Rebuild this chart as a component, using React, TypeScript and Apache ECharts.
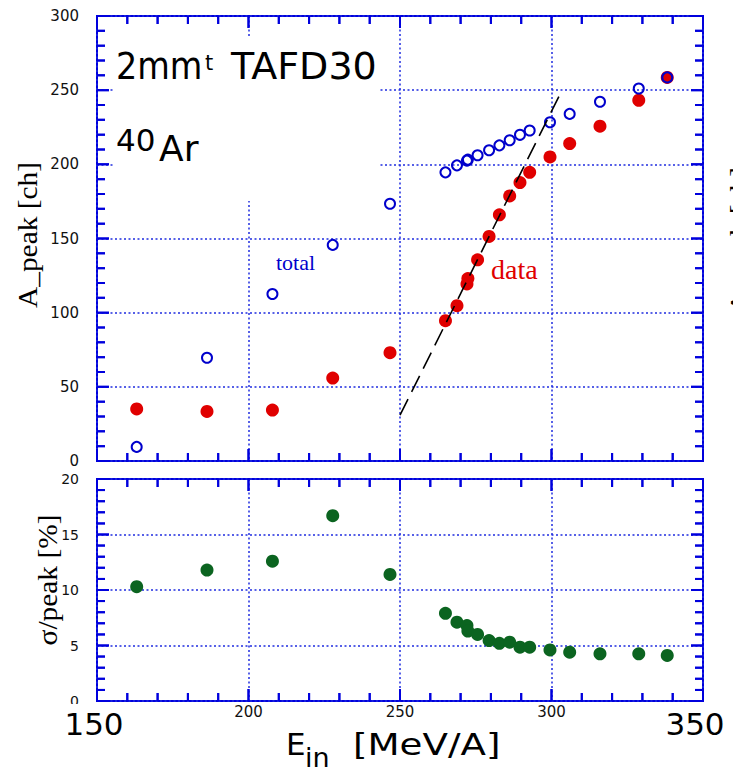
import React, { useEffect, useRef } from "react";
import * as echarts from "echarts";

// ---- data ----
const energy = [163.1, 186.3, 207.9, 227.8, 246.7, 265.0, 268.8, 272.1, 272.4, 275.6, 279.4, 282.8, 286.2, 289.6, 292.8, 299.5, 306.0, 316.0, 328.8, 338.2];
const peakData = [35.1, 33.4, 34.3, 55.9, 73.0, 94.6, 104.7, 119.4, 123.0, 135.6, 151.4, 166.0, 178.7, 187.7, 194.6, 205.0, 214.0, 225.7, 243.2, 258.6];
const peakTotal = [9.5, 69.6, 112.6, 145.7, 173.4, 194.6, 199.3, 202.5, 203.2, 206.1, 209.5, 212.8, 216.2, 219.9, 222.8, 228.4, 234.0, 242.2, 251.1, 258.6];
const sigmaPeak = [10.3, 11.8, 12.6, 16.7, 11.4, 7.9, 7.1, 6.8, 6.3, 6.0, 5.45, 5.2, 5.3, 4.85, 4.85, 4.6, 4.4, 4.25, 4.25, 4.1];
const fitLine = [[250, 30.9], [302.5, 246]];
const xTicks = [150, 200, 250, 300, 350];
const yTicksTop = [0, 50, 100, 150, 200, 250, 300];
const yTicksBottom = [0, 5, 10, 15, 20];

const BLUE = "#0000dd";
const GRID = "#1f2ce0";
const RED = "#e00000";
const GREEN = "#0b6420";
const SANS = "'DejaVu Sans'";
const SERIF = "'Liberation Serif', 'Times New Roman', serif";

const GRIDS = [
  { left: 97, top: 16, width: 606, height: 445 },
  { left: 97, top: 479, width: 606, height: 222 },
];

// tick marks: 5 minor divisions between labelled ticks
function tickMarks(ticks: number[]) {
  const out: number[] = [];
  for (let i = 0; i < ticks.length - 1; i++) {
    const step = (ticks[i + 1] - ticks[i]) / 5;
    for (let k = 0; k < 5; k++) out.push(ticks[i] + k * step);
  }
  out.push(ticks[ticks.length - 1]);
  return out;
}

function isMajor(v: number, major: number) {
  return Math.abs(v / major - Math.round(v / major)) < 1e-6;
}

function valueAxis(gridIndex: number, position: string, ticks: number[], label: any) {
  return {
    type: "value",
    gridIndex,
    position,
    min: ticks[0],
    max: ticks[ticks.length - 1],
    interval: ticks[1] - ticks[0],
    axisLine: { show: false },
    axisTick: { show: false },
    splitLine: { show: true, lineStyle: { color: GRID, width: 1.5, type: [2, 2.5] } },
    axisLabel: label ? { show: true, color: "#111", fontFamily: "DejaVu Sans", ...label } : { show: false },
  };
}

// tick segments as one line series (null-separated), lengths converted from px to axis units
function tickLineSeries(idx: number, xt: number[], yt: number[]) {
  const g = GRIDS[idx];
  const xMin = xt[0], xMax = xt[xt.length - 1];
  const yMin = yt[0], yMax = yt[yt.length - 1];
  const ux = (xMax - xMin) / g.width;
  const uy = (yMax - yMin) / g.height;
  const data: any[] = [];
  tickMarks(xt).forEach((v) => {
    const len = (isMajor(v, xt[1] - xt[0]) ? 12 : 8) * uy;
    data.push([v, yMin], [v, yMin + len], null, [v, yMax], [v, yMax - len], null);
  });
  tickMarks(yt).forEach((v) => {
    const len = (isMajor(v, yt[1] - yt[0]) ? 12 : 8) * ux;
    data.push([xMin, v], [xMin + len, v], null, [xMax, v], [xMax - len, v], null);
  });
  return {
    type: "line",
    xAxisIndex: idx,
    yAxisIndex: idx,
    showSymbol: false,
    symbol: "none",
    connectNulls: false,
    silent: true,
    clip: false,
    z: 6,
    lineStyle: { color: BLUE, width: 2, type: "solid" },
    data,
  };
}

export default function App() {
  const ref = useRef<HTMLDivElement>(null);
  useEffect(() => {
    if (!ref.current) return;
    const chart = echarts.init(ref.current, undefined, { renderer: "svg" });
    const zip = (xs: number[], ys: number[]) => xs.map((x, i) => [x, ys[i]]);
    const gridStyle = { show: true, borderColor: BLUE, borderWidth: 2, backgroundColor: "transparent" };
    const baseGraphic: any[] = [
      { type: "rect", z: 1, shape: { x: 113, y: 37, width: 267, height: 164 }, style: { fill: "#fff" } },
      { type: "text", z: 10, x: 116, y: 66, scaleX: 0.88, style: { text: "2mm", font: `38px ${SANS}`, fill: "#000", textAlign: "left", textVerticalAlign: "middle" } },
      { type: "text", z: 10, x: 205, y: 63, style: { text: "t", font: `21px ${SANS}`, fill: "#000", textAlign: "left", textVerticalAlign: "middle" } },
      { type: "text", z: 10, x: 231, y: 66, style: { text: "TAFD30", font: `38px ${SANS}`, fill: "#000", textAlign: "left", textVerticalAlign: "middle" } },
      { type: "text", z: 10, x: 116, y: 140, style: { text: "40", font: `31px ${SANS}`, fill: "#000", textAlign: "left", textVerticalAlign: "middle" } },
      { type: "text", z: 10, x: 159, y: 148, style: { text: "Ar", font: `36px ${SANS}`, fill: "#000", textAlign: "left", textVerticalAlign: "middle" } },
      { type: "text", z: 10, x: 276, y: 262, style: { text: "total", font: `22px ${SERIF}`, fill: "#0000cc", textAlign: "left", textVerticalAlign: "middle" } },
      { type: "text", z: 10, x: 491, y: 269, style: { text: "data", font: `28px ${SERIF}`, fill: RED, textAlign: "left", textVerticalAlign: "middle" } },
      { type: "text", z: 10, x: 27, y: 235, rotation: Math.PI / 2, scaleX: 1.05, style: { text: "A_peak [ch]", fontSize: 28, fontFamily: "Liberation Serif", fill: "#000", textAlign: "center", textVerticalAlign: "middle" } },
      { type: "text", z: 10, x: 739, y: 240, rotation: Math.PI / 2, scaleX: 1.05, style: { text: "A_peak [ch]", fontSize: 28, fontFamily: "Liberation Serif", fill: "#000", textAlign: "center", textVerticalAlign: "middle" } },
      { type: "text", z: 10, x: 47, y: 580, rotation: Math.PI / 2, scaleX: 1.05, style: { text: "σ/peak [%]", fontSize: 28, fontFamily: "Liberation Serif", fill: "#000", textAlign: "center", textVerticalAlign: "middle" } },
      { type: "rect", z: 8, shape: { x: 62, y: 704, width: 64, height: 40 }, style: { fill: "#fff" } },
      { type: "rect", z: 8, shape: { x: 664, y: 704, width: 69, height: 40 }, style: { fill: "#fff" } },
      { type: "text", z: 10, x: 94, y: 723.5, style: { text: "150", font: `31px ${SANS}`, fill: "#000", textAlign: "center", textVerticalAlign: "middle" } },
      { type: "text", z: 10, x: 695, y: 723.5, style: { text: "350", font: `31px ${SANS}`, fill: "#000", textAlign: "center", textVerticalAlign: "middle" } },
      { type: "text", z: 10, x: 286, y: 744, style: { text: "E", font: `31px ${SANS}`, fill: "#000", textAlign: "left", textVerticalAlign: "middle" } },
      { type: "text", z: 10, x: 305, y: 757, style: { text: "in", font: `27px ${SANS}`, fill: "#000", textAlign: "left", textVerticalAlign: "middle" } },
      { type: "text", z: 10, x: 353, y: 744, scaleX: 1.2, style: { text: "[MeV/A]", font: `31px ${SANS}`, fill: "#000", textAlign: "left", textVerticalAlign: "middle" } },
    ];
    chart.setOption({
      animation: false,
      backgroundColor: "#fff",
      grid: GRIDS.map((g) => ({ ...g, ...gridStyle })),
      xAxis: [
        valueAxis(0, "bottom", xTicks, null),
        valueAxis(1, "bottom", xTicks, { fontSize: 15, margin: 3 }),
      ],
      yAxis: [
        valueAxis(0, "left", yTicksTop, { fontSize: 15, margin: 18 }),
        valueAxis(1, "left", yTicksBottom, { fontSize: 14, margin: 18 }),
      ],
      series: [
        { name: "data", type: "scatter", xAxisIndex: 0, yAxisIndex: 0, symbol: "circle", symbolSize: 13, itemStyle: { color: RED, opacity: 1 }, data: zip(energy, peakData), z: 3 },
        { name: "total", type: "scatter", xAxisIndex: 0, yAxisIndex: 0, symbol: "circle", symbolSize: 10, itemStyle: { color: "rgba(0,0,0,0)", borderColor: "#0000cc", borderWidth: 2, opacity: 1 }, data: zip(energy, peakTotal), z: 4 },
        { name: "fit", type: "line", xAxisIndex: 0, yAxisIndex: 0, showSymbol: false, symbol: "none", lineStyle: { color: "#000", width: 1.6, type: [18, 8] }, data: fitLine, z: 5 },
        { name: "sigma", type: "scatter", xAxisIndex: 1, yAxisIndex: 1, symbol: "circle", symbolSize: 13, itemStyle: { color: GREEN, opacity: 1 }, data: zip(energy, sigmaPeak), z: 3 },
        tickLineSeries(0, xTicks, yTicksTop),
        tickLineSeries(1, xTicks, yTicksBottom),
      ],
      graphic: baseGraphic,
    });

    // second layer of tick marks placed through the axes' own pixel conversion
    const tickEls: any[] = [];
    const addTicks = (gi: number, xt: number[], yt: number[]) => {
      const xMin = xt[0], xMax = xt[xt.length - 1];
      const yMin = yt[0], yMax = yt[yt.length - 1];
      const style = { stroke: BLUE, lineWidth: 2 };
      tickMarks(xt).forEach((v) => {
        const len = isMajor(v, xt[1] - xt[0]) ? 12 : 8;
        const a = chart.convertToPixel({ gridIndex: gi } as any, [v, yMin]) as number[];
        const b = chart.convertToPixel({ gridIndex: gi } as any, [v, yMax]) as number[];
        if (!a || !b) return;
        tickEls.push({ type: "line", z: 7, shape: { x1: a[0], y1: a[1], x2: a[0], y2: a[1] - len }, style });
        tickEls.push({ type: "line", z: 7, shape: { x1: b[0], y1: b[1], x2: b[0], y2: b[1] + len }, style });
      });
      tickMarks(yt).forEach((v) => {
        const len = isMajor(v, yt[1] - yt[0]) ? 12 : 8;
        const a = chart.convertToPixel({ gridIndex: gi } as any, [xMin, v]) as number[];
        const b = chart.convertToPixel({ gridIndex: gi } as any, [xMax, v]) as number[];
        if (!a || !b) return;
        tickEls.push({ type: "line", z: 7, shape: { x1: a[0], y1: a[1], x2: a[0] + len, y2: a[1] }, style });
        tickEls.push({ type: "line", z: 7, shape: { x1: b[0], y1: b[1], x2: b[0] - len, y2: b[1] }, style });
      });
    };
    try {
      addTicks(0, xTicks, yTicksTop);
      addTicks(1, xTicks, yTicksBottom);
      if (tickEls.length) chart.setOption({ graphic: [...baseGraphic, ...tickEls] });
    } catch (e) {
      // keep chart without the extra layer
    }
    return () => chart.dispose();
  }, []);
  return (
    <div
      ref={ref}
      style={{ position: "absolute", left: 0, top: 0, width: 733, height: 772, background: "#fff" }}
    />
  );
}
